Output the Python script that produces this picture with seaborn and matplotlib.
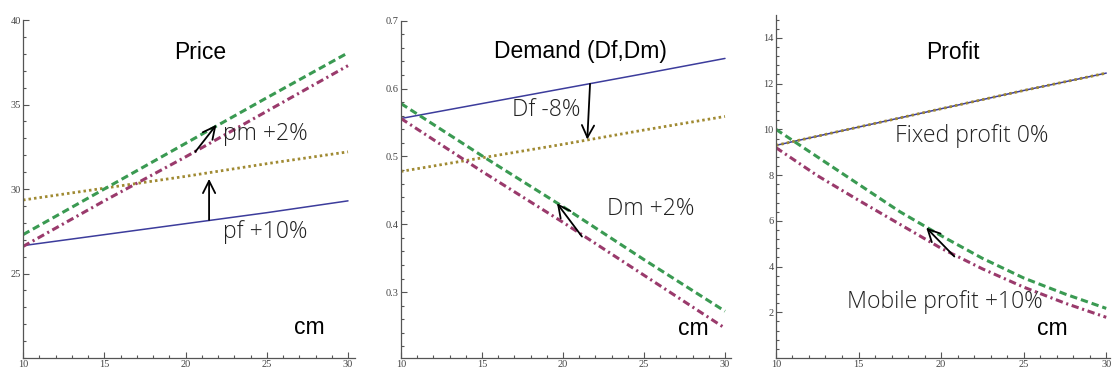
import matplotlib
matplotlib.use("Agg")
import matplotlib.pyplot as plt
from matplotlib.ticker import MultipleLocator, FixedLocator
import seaborn as sns

sns.set_style("white")
plt.rcParams["font.family"] = ["Liberation Sans", "DejaVu Sans"]

# x values (cm)
cm = [10, 15, 20, 25, 30]
cm_fine = [10, 12.5, 15, 17.5, 20, 22.5, 25, 27.5, 30]

# Price panel
price_pf = [26.65, 27.3, 27.95, 28.6, 29.3]
price_pf_up = [29.35, 30.05, 30.75, 31.5, 32.2]
price_pm_up = [27.3, 30.0, 32.7, 35.4, 38.06]
price_pm = [26.6, 29.3, 31.9, 34.6, 37.3]

# Demand panel
demand_df = [0.556, 0.578, 0.600, 0.622, 0.6445]
demand_df_down = [0.478, 0.498, 0.518, 0.539, 0.559]
demand_dm_up = [0.578, 0.501, 0.426, 0.348, 0.272]
demand_dm = [0.556, 0.478, 0.403, 0.325, 0.247]

# Profit panel
profit_fixed = [9.3, 10.1, 10.9, 11.7, 12.46]
profit_fixed_new = [9.3, 10.1, 10.9, 11.7, 12.46]
profit_mobile_up = [10.0, 8.8, 7.6, 6.4, 5.35, 4.36, 3.5, 2.8, 2.17]
profit_mobile = [9.2, 7.98, 6.9, 5.85, 4.8, 3.9, 3.1, 2.4, 1.78]

# line styles (Mathematica-like defaults)
blue = "#3c3c9c"
gold = "#a08a32"
green = "#3a9a52"
purple = "#9a3a6c"
st_base = dict(color=blue, lw=1.1, linestyle="-")
st_dot = dict(color=gold, lw=2.0, linestyle=(0, (0.9, 1.1)))
st_dash = dict(color=green, lw=2.2, linestyle=(0, (2.4, 1.3)))
st_dashdot = dict(color=purple, lw=2.2, linestyle=(0, (2.4, 1.2, 0.7, 1.2)))

axis_grey = "#555555"
title_font = dict(family=["Liberation Sans", "DejaVu Sans"], fontsize=16.5, color="black")
note_font = dict(family=["Open Sans", "DejaVu Sans"], fontweight="light", fontsize=16.6,
                 color="#222222")

fig = plt.figure(figsize=(11.12, 3.71), dpi=100)
ax1 = fig.add_axes([0.0207, 0.035, 0.2981, 0.911])
ax2 = fig.add_axes([0.3606, 0.035, 0.2972, 0.909])
ax3 = fig.add_axes([0.6978, 0.035, 0.3000, 0.9245])


def style_axis(ax, xlim, ylim, yticks, yminor, ylabels):
    ax.set_xlim(*xlim)
    ax.set_ylim(*ylim)
    for s in ["top", "right"]:
        ax.spines[s].set_visible(False)
    for s in ["left", "bottom"]:
        ax.spines[s].set_color(axis_grey)
        ax.spines[s].set_linewidth(0.9)
    ax.xaxis.set_major_locator(FixedLocator([10, 15, 20, 25, 30]))
    ax.xaxis.set_minor_locator(MultipleLocator(1))
    ax.yaxis.set_major_locator(FixedLocator(yticks))
    ax.yaxis.set_minor_locator(MultipleLocator(yminor))
    ax.set_yticklabels(ylabels)
    ax.tick_params(which="both", direction="in", color=axis_grey, width=0.8,
                   labelsize=7.5, labelcolor="#444444", pad=1.5,
                   left=True, bottom=True)
    ax.tick_params(which="major", length=4.5)
    ax.tick_params(which="minor", length=2.5)
    for lab in ax.get_xticklabels() + ax.get_yticklabels():
        lab.set_family(["Liberation Serif", "DejaVu Serif"])
    ax.set_xlabel("")
    ax.set_ylabel("")
    ax.set_facecolor("white")


def arrow(ax, start, end):
    ax.annotate("", xy=end, xytext=start,
                arrowprops=dict(arrowstyle="->", lw=1.3, color="black",
                                mutation_scale=22, shrinkA=0, shrinkB=0))


# Price
sns.lineplot(x=cm, y=price_pf, ax=ax1, **st_base)
sns.lineplot(x=cm, y=price_pf_up, ax=ax1, **st_dot)
sns.lineplot(x=cm, y=price_pm_up, ax=ax1, **st_dash)
sns.lineplot(x=cm, y=price_pm, ax=ax1, **st_dashdot)
style_axis(ax1, (10, 30.4), (20, 40), [25, 30, 35, 40], 1, ["25", "30", "35", "40"])
ax1.text(20.9, 38.1, "Price", ha="center", va="center", **title_font)
ax1.text(26.7, 21.8, "cm", ha="left", va="center", **title_font)
ax1.text(22.3, 33.25, "pm +2%", ha="left", va="center", **note_font)
ax1.text(22.3, 27.45, "pf +10%", ha="left", va="center", **note_font)
arrow(ax1, (20.6, 32.2), (21.9, 33.8))
arrow(ax1, (21.45, 28.17), (21.45, 30.6))

# Demand
sns.lineplot(x=cm, y=demand_df, ax=ax2, **st_base)
sns.lineplot(x=cm, y=demand_df_down, ax=ax2, **st_dot)
sns.lineplot(x=cm, y=demand_dm_up, ax=ax2, **st_dash)
sns.lineplot(x=cm, y=demand_dm, ax=ax2, **st_dashdot)
style_axis(ax2, (10, 30.4), (0.203, 0.7), [0.3, 0.4, 0.5, 0.6, 0.7], 0.02,
           ["0.3", "0.4", "0.5", "0.6", "0.7"])
ax2.text(21.05, 0.654, "Demand (Df,Dm)", ha="center", va="center", **title_font)
ax2.text(27.1, 0.246, "cm", ha="left", va="center", **title_font)
ax2.text(16.85, 0.568, "Df -8%", ha="left", va="center", **note_font)
ax2.text(22.7, 0.422, "Dm +2%", ha="left", va="center", **note_font)
arrow(ax2, (21.67, 0.607), (21.5, 0.525))
arrow(ax2, (21.17, 0.382), (19.63, 0.431))

# Profit
sns.lineplot(x=cm, y=profit_fixed, ax=ax3, **st_base)
sns.lineplot(x=cm, y=profit_fixed_new, ax=ax3, **st_dot)
sns.lineplot(x=cm_fine, y=profit_mobile_up, ax=ax3, **st_dash)
sns.lineplot(x=cm_fine, y=profit_mobile, ax=ax3, **st_dashdot)
style_axis(ax3, (10, 30.2), (0, 15), [2, 4, 6, 8, 10, 12, 14], 0.4,
           ["2", "4", "6", "8", "10", "12", "14"])
ax3.text(20.7, 13.37, "Profit", ha="center", va="center", **title_font)
ax3.text(25.8, 1.3, "cm", ha="left", va="center", **title_font)
ax3.text(17.2, 9.7, "Fixed profit 0%", ha="left", va="center", **note_font)
ax3.text(14.3, 2.45, "Mobile profit +10%", ha="left", va="center", **note_font)
arrow(ax3, (20.8, 4.44), (19.1, 5.7))

fig.savefig("out.png", dpi=100)
